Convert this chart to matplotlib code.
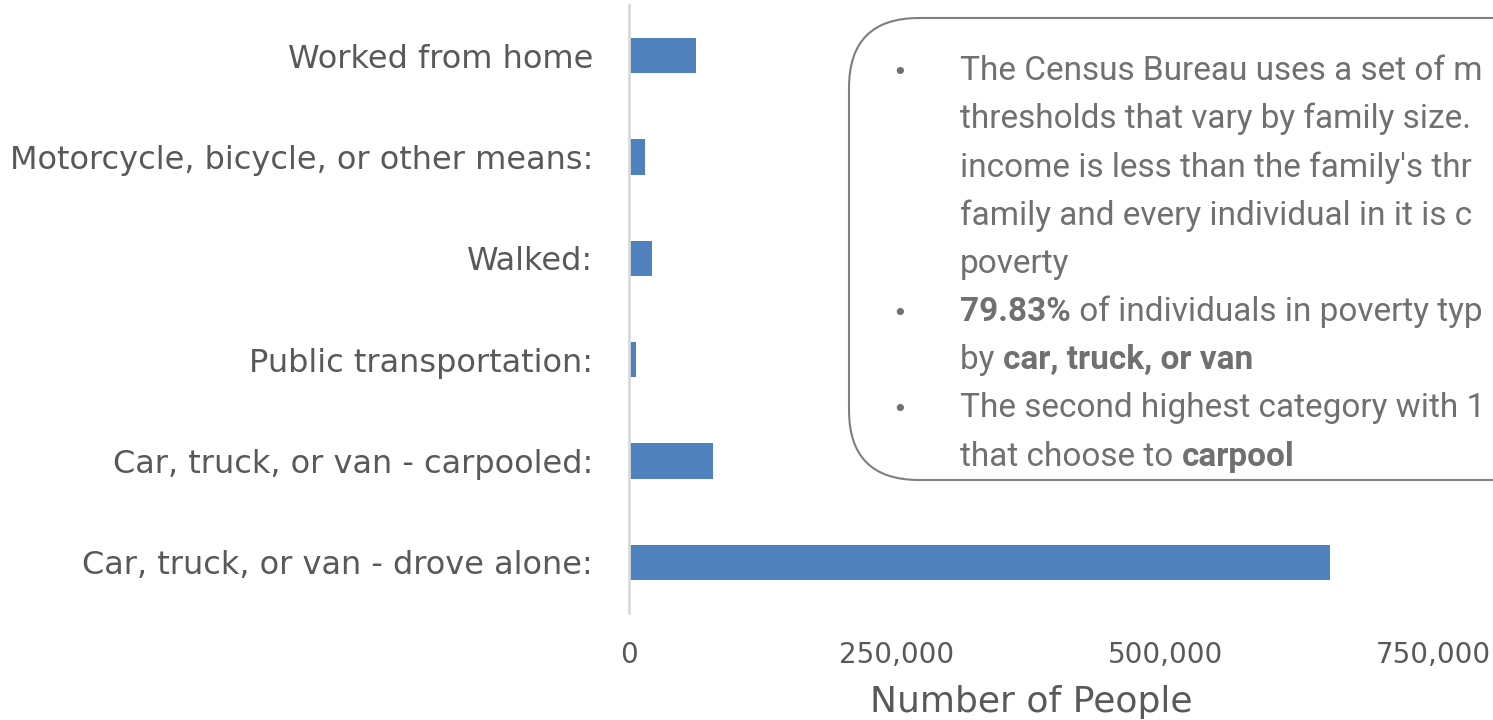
import matplotlib
matplotlib.use("Agg")
import matplotlib.pyplot as plt
from matplotlib.patches import FancyBboxPatch
from matplotlib.ticker import FuncFormatter

# data
categories = ["Car, truck, or van - drove alone:", "Car, truck, or van - carpooled:",
              "Public transportation:", "Walked:",
              "Motorcycle, bicycle, or other means:", "Worked from home"]
people = [654000, 78100, 6200, 21500, 14600, 62500]
x_ticks = [0, 250000, 500000, 750000]

# note text as far as it is visible in the (cropped) reference
note_lines = [
    [("The Census Bureau uses a set of m", "normal")],
    [("thresholds that vary by family size.", "normal")],
    [("income is less than the family's thr", "normal")],
    [("family and every individual in it is c", "normal")],
    [("poverty", "normal")],
    [("79.83%", "bold"), (" of individuals in poverty typ", "normal")],
    [("by ", "normal"), ("car, truck, or van", "bold")],
    [("The second highest category with 1", "normal")],
    [("that choose to ", "normal"), ("carpool", "bold")],
]
bullet_rows = [0, 5, 7]

W, H = 1493, 720
fig = plt.figure(figsize=(W / 100, H / 100), dpi=100)

ax = fig.add_axes([629 / W, 1 - 613 / H, (1433 - 629) / W, 608 / H])
ax.barh(range(len(categories)), people, height=0.35, color="#4F81BD")
ax.set_xlim(0, 750000)
ax.set_ylim(-0.5, len(categories) - 0.5)
ax.set_yticks(range(len(categories)))
ax.set_yticklabels(categories, fontsize=23, color="#595959", family="DejaVu Sans")
ax.set_xticks(x_ticks)
ax.xaxis.set_major_formatter(FuncFormatter(lambda v, p: f"{int(v):,}"))
for lab in ax.get_xticklabels():
    lab.set_fontsize(20)
    lab.set_color("#595959")
    lab.set_family("DejaVu Sans")
ax.tick_params(axis="both", length=0)
ax.tick_params(axis="y", pad=26)
ax.tick_params(axis="x", pad=20)
ax.set_xlabel("Number of People", fontsize=26, color="#595959", family="DejaVu Sans", labelpad=12)
for s in ["top", "right", "bottom"]:
    ax.spines[s].set_visible(False)
ax.spines["left"].set_color("#D9D9D9")
ax.spines["left"].set_linewidth(2)

# overlay in pixel coordinates for the note box
ov = fig.add_axes([0, 0, 1, 1])
ov.set_xlim(0, W)
ov.set_ylim(H, 0)
ov.axis("off")
box = FancyBboxPatch((849, 18), 800, 462, boxstyle="round,pad=0,rounding_size=70",
                     fill=False, edgecolor="#7F7F7F", linewidth=1.5, clip_on=True)
ov.add_patch(box)

fig.canvas.draw()
renderer = fig.canvas.get_renderer()
inv = ov.transData.inverted()
y0, dy = 71, 48.2
for i, segs in enumerate(note_lines):
    y = y0 + i * dy
    if i in bullet_rows:
        ov.text(900, y + 2, "•", fontsize=18, color="#707070", family="DejaVu Sans",
                va="center", ha="center")
    x = 960
    for txt, wt in segs:
        t = ov.text(x, y, txt, fontsize=24, color="#707070", family="Roboto",
                    fontweight=wt, va="center", ha="left")
        bb = t.get_window_extent(renderer)
        x = inv.transform((bb.x1, bb.y0))[0]

fig.savefig("out.png", dpi=100)
